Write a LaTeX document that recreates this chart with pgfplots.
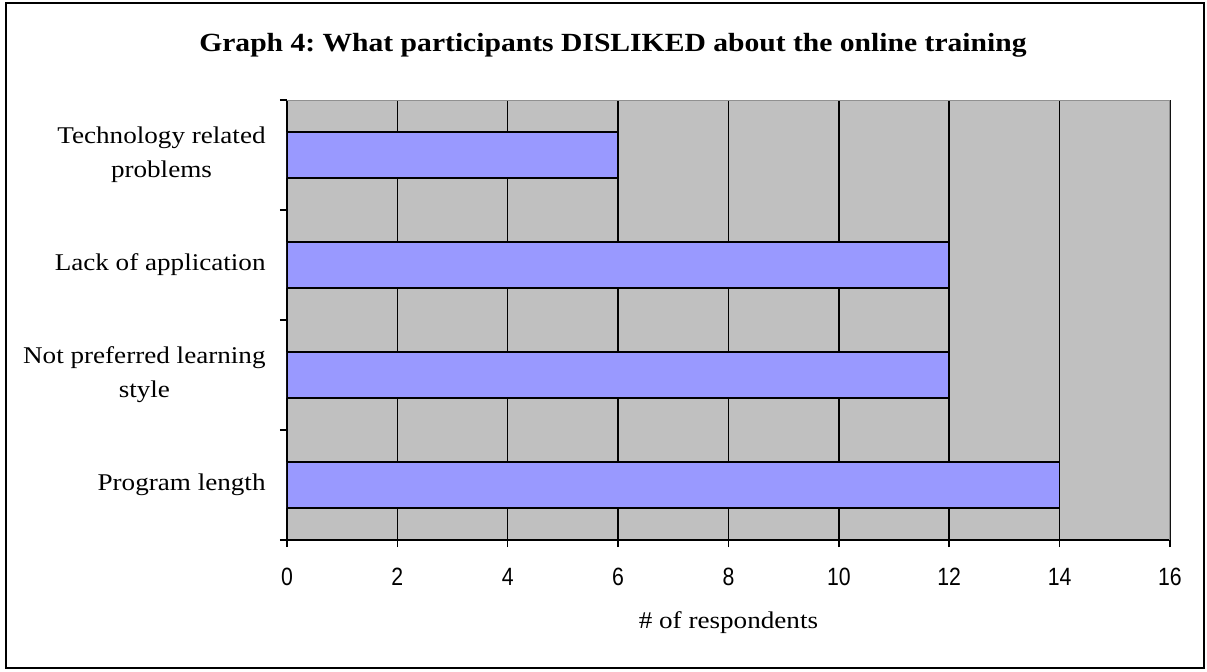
\documentclass[border=0pt]{standalone}
\usepackage{pgfplots}
\pgfplotsset{compat=1.18}
\usepackage{fontspec}
\setmainfont{Liberation Serif}[FakeStretch=1.13]
\newfontfamily\narrowsans{Liberation Sans}[FakeStretch=0.85]
\definecolor{barblue}{HTML}{9999FF}
\definecolor{plotgray}{HTML}{C0C0C0}
\definecolor{edgegray}{HTML}{909090}
\begin{document}
\frenchspacing
\begin{tikzpicture}
\useasboundingbox (0,0) rectangle (603.5pt,335.5pt);
\draw[line width=1pt] (3pt,1.5pt) rectangle (602pt,334pt);
\node[font=\bfseries\fontsize{13.1}{15}\selectfont] at (306.5pt,313pt) {Graph 4: What participants DISLIKED about the online training};
\begin{axis}[
  at={(143.5pt,65.5pt)}, anchor=south west,
  width=441.5pt, height=220pt, scale only axis,
  xbar, bar width=23pt,
  xmin=0, xmax=16, ymin=-0.5, ymax=3.5,
  xtick={0,2,...,16},
  minor xtick={0,2,...,16},
  ytick={0,1,2,3},
  yticklabels={Program length, {Not preferred learning\\style}, Lack of application, {Technology related\\problems}},
  minor ytick={-0.5,0.5,1.5,2.5,3.5},
  major tick length=0pt, minor tick length=3.5pt,
  tick align=outside,
  tick style={black, line width=0.75pt},
  minor tick style={black, line width=0.75pt},
  axis x line*=bottom, axis y line*=left,
  axis line style={black, line width=0.75pt, -},
  axis background/.style={fill=plotgray},
  xminorgrids, minor grid style={black, line width=0.75pt},
  /pgf/number format/assume math mode=true,
  xticklabel style={font=\narrowsans\fontsize{12.5}{13}\selectfont, anchor=center, inner sep=0pt, yshift=-18.5pt},
  yticklabel style={align=center, anchor=east, inner sep=0pt, xshift=-10.5pt, font=\fontsize{12}{17}\selectfont},
  xlabel={\# of respondents},
  xlabel style={at={(axis description cs:0.5,0)}, anchor=center, yshift=-41.5pt, font=\fontsize{12}{13}\selectfont},
]
\addplot[fill=barblue, draw=black, line width=0.75pt] coordinates {(14,0) (12,1) (12,2) (6,3)};
\draw[edgegray, line width=0.75pt] (rel axis cs:0,1) -- (rel axis cs:1,1) -- (rel axis cs:1,0);
\end{axis}
\end{tikzpicture}
\end{document}
